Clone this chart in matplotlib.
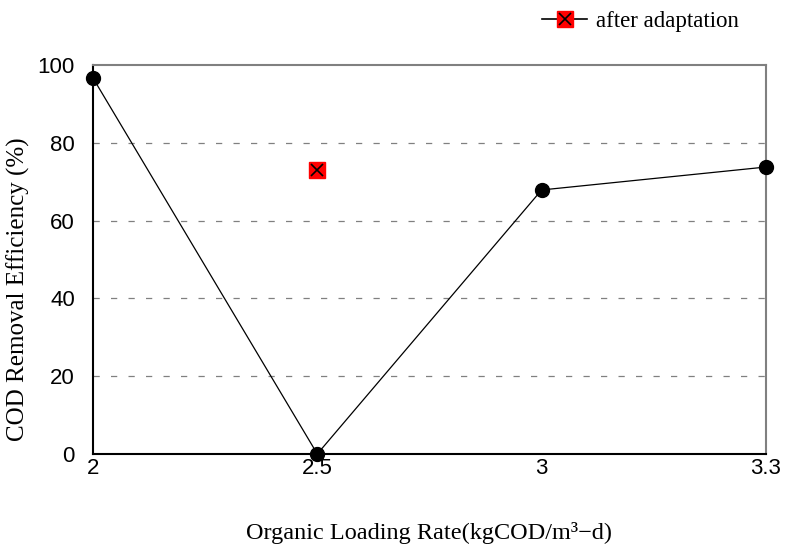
import matplotlib
matplotlib.use("Agg")
import matplotlib.pyplot as plt
from matplotlib.lines import Line2D

olr_labels = ["2", "2.5", "3", "3.3"]
cod_removal = [96.7, 0.0, 67.9, 73.8]
adapt_label = "2.5"
adapt_value = 73.0

serif = "Liberation Serif"
sans = "Liberation Sans"

fig = plt.figure(figsize=(7.88, 5.57), dpi=100)
ax = fig.add_axes([0.118, 0.185, 0.854, 0.698])

xpos = list(range(len(olr_labels)))
ax.plot(xpos, cod_removal, color="black", lw=0.9, marker="o",
        markersize=10, markerfacecolor="black", markeredgecolor="black",
        clip_on=False, zorder=3)

ax_x = olr_labels.index(adapt_label)
ax.plot([ax_x], [adapt_value], ls="none", marker="s", markersize=11,
        markerfacecolor="#ff0000", markeredgecolor="#ff0000", zorder=4)
ax.plot([ax_x], [adapt_value], ls="none", marker="x", markersize=8,
        markeredgecolor="black", markeredgewidth=1.2, zorder=5)

ax.set_xlim(0, len(olr_labels) - 1)
ax.set_ylim(0, 100)
ax.set_xticks(xpos)
ax.set_xticklabels(olr_labels, fontfamily=sans, fontsize=16)
ax.set_yticks([0, 20, 40, 60, 80, 100])
ax.set_yticklabels(["0", "20", "40", "60", "80", "100"], fontfamily=sans, fontsize=16)
ax.tick_params(axis="x", length=0, pad=3)
ax.tick_params(axis="y", length=0, pad=13)

for y in [20, 40, 60, 80]:
    ax.axhline(y, color="#808080", lw=0.9, ls=(0, (5, 9)), zorder=1)

for s in ["left", "bottom"]:
    ax.spines[s].set_color("black")
    ax.spines[s].set_linewidth(1.5)
for s in ["top", "right"]:
    ax.spines[s].set_color("#808080")
    ax.spines[s].set_linewidth(1.5)

ax.set_xlabel("Organic Loading Rate(kgCOD/m³−d)", fontfamily=serif, fontsize=17.5)
ax.xaxis.set_label_coords(0.5, -0.175)
ax.set_ylabel("COD Removal Efficiency (%)", fontfamily=serif, fontsize=18)
ax.yaxis.set_label_coords(-0.094, 0.424)

h_line = Line2D([], [], color="black", lw=1.2, marker="s", markersize=11,
                markerfacecolor="#ff0000", markeredgecolor="#ff0000")
h_x = Line2D([], [], ls="none", marker="x", markersize=8,
             markeredgecolor="black", markeredgewidth=1.2)
fig.legend([(h_line, h_x)], ["after adaptation"], loc="center left",
           bbox_to_anchor=(0.662, 0.962), frameon=False, handlelength=1.96,
           handletextpad=0.4, prop={"family": serif, "size": 16.5})

fig.savefig("out.png", dpi=100, facecolor="white")
